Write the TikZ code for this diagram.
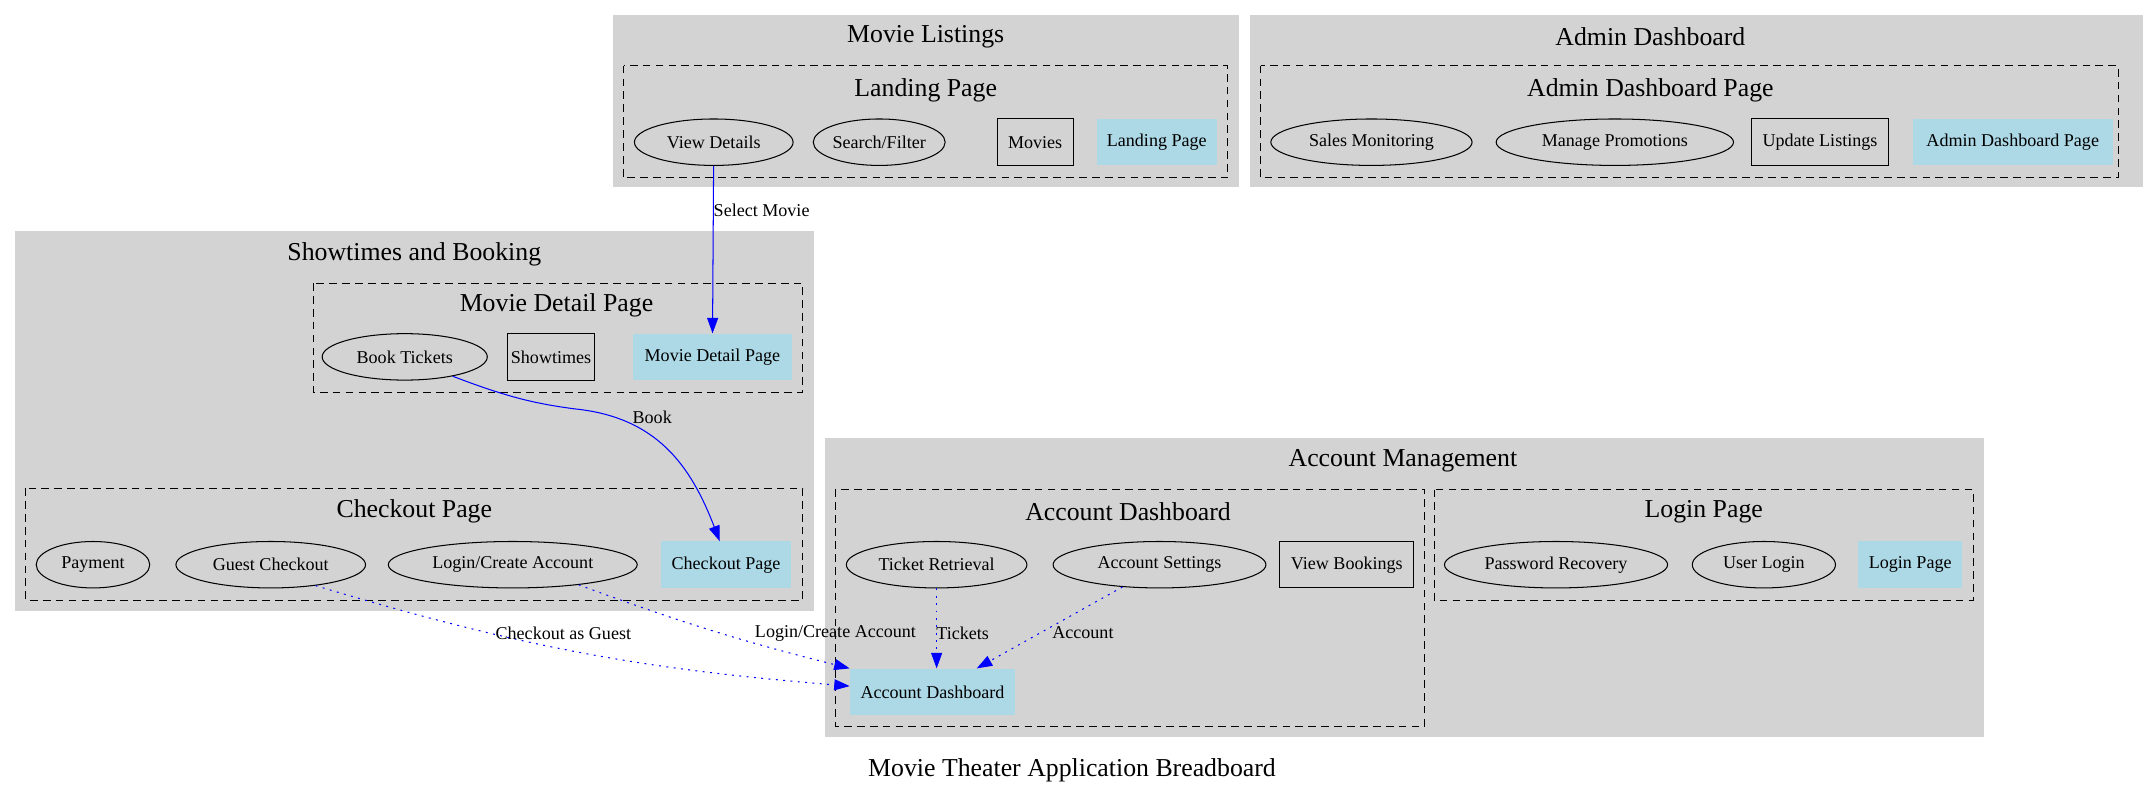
\documentclass[tikz,border=0pt]{standalone}
\usepackage{fontspec}
\setmainfont{Liberation Serif}
\usetikzlibrary{shapes.geometric,arrows.meta}
\definecolor{gvgray}{HTML}{D3D3D3}
\definecolor{gvblue}{HTML}{ADD8E6}

\begin{document}
\begin{tikzpicture}[x=1.06pt,y=-1.06pt,
    font=\fontsize{14}{16}\selectfont,
    area/.style={fill=gvgray,draw=none},
    pagebox/.style={draw,dash pattern=on 6pt off 4pt,line width=0.8pt},
    heading/.style={font=\fontsize{20}{24}\selectfont,inner sep=0pt},
    action/.style={ellipse,draw,line width=0.8pt,inner sep=0pt,minimum height=36pt},
    item/.style={rectangle,draw,line width=0.8pt,inner sep=0pt,minimum height=36pt},
    pagenode/.style={rectangle,fill=gvblue,inner sep=0pt,minimum height=36pt},
    flow/.style={blue,line width=0.8pt,-{Triangle[length=12pt,width=8.5pt]}},
    link/.style={flow,dash pattern=on 1.5pt off 4.2pt},
    lbl/.style={inner sep=0pt}]
  \path[use as bounding box] (0,0) rectangle (1568,580);

  % clusters
  \fill[area] (448,11) rectangle (906,137);
  \fill[area] (914,11) rectangle (1567,137);
  \fill[area] (11,169) rectangle (595,447);
  \fill[area] (603,320) rectangle (1451,539);
  \draw[pagebox] (456,48) rectangle (898,130);
  \draw[pagebox] (922,48) rectangle (1549,130);
  \draw[pagebox] (229,207) rectangle (587,287);
  \draw[pagebox] (19,357) rectangle (587,439);
  \draw[pagebox] (611,358) rectangle (1042,531);
  \draw[pagebox] (1049,358) rectangle (1443,439);

  \node[heading] (tlist) at (677,27) {Movie Listings};
  \node[heading] (tland) at (677,66) {Landing Page};
  \node[heading] (tadmin) at (1207,27) {Admin Dashboard};
  \node[heading] (tadminp) at (1207,66) {Admin Dashboard Page};
  \node[heading] (tshow) at (303,186) {Showtimes and Booking};
  \node[heading] (tdetail) at (407,223) {Movie Detail Page};
  \node[heading] (tcheck) at (303,374) {Checkout Page};
  \node[heading] (tacct) at (1026,337) {Account Management};
  \node[heading] (tdash) at (825,374) {Account Dashboard};
  \node[heading] (tlogin) at (1246,374) {Login Page};
  \node[heading] (title) at (784,563) {Movie Theater Application Breadboard};

  % landing page
  \node[action,minimum width=123pt] (vdet) at (522,104) {View Details};
  \node[action,minimum width=97pt] (search) at (643,104) {Search/Filter};
  \node[item,minimum width=59pt] (movies) at (757,104) {Movies};
  \node[pagenode,minimum width=93pt] (landp) at (846,104) {Landing Page};

  % admin dashboard page
  \node[action,minimum width=156pt] (sales) at (1003,104) {Sales Monitoring};
  \node[action,minimum width=184pt] (promos) at (1181,104) {Manage Promotions};
  \node[item,minimum width=106pt] (updlist) at (1331,104) {Update Listings};
  \node[pagenode,minimum width=155pt] (adminp) at (1472,104) {Admin Dashboard Page};

  % movie detail page
  \node[action,minimum width=128pt] (book) at (296,261) {Book Tickets};
  \node[item,minimum width=68pt] (shows) at (403,261) {Showtimes};
  \node[pagenode,minimum width=123pt] (detailp) at (521,261) {Movie Detail Page};

  % checkout page
  \node[action,minimum width=88pt] (pay) at (68,413) {Payment};
  \node[action,minimum width=147pt] (guest) at (198,413) {Guest Checkout};
  \node[action,minimum width=193pt] (logacct) at (375,413) {Login/Create Account};
  \node[pagenode,minimum width=101pt] (checkp) at (531,413) {Checkout Page};

  % account dashboard
  \node[action,minimum width=140pt] (tickret) at (685,413) {Ticket Retrieval};
  \node[action,minimum width=165pt] (acctset) at (848,413) {Account Settings};
  \node[item,minimum width=104pt] (viewbk) at (985,413) {View Bookings};
  \node[pagenode,minimum width=128pt] (acctdash) at (682,506) {Account Dashboard};

  % login page
  \node[action,minimum width=173pt] (pwrec) at (1138,413) {Password Recovery};
  \node[action,minimum width=111pt] (ulogin) at (1290,413) {User Login};
  \node[pagenode,minimum width=81pt] (loginp) at (1397,413) {Login Page};

  % edges
  \draw[flow] (vdet) -- (detailp);
  \node[lbl] (lsel) at (557,154) {Select Movie};
  \draw[flow] (book.-22) .. controls (370,290) and (390,295) .. (420,299)
    .. controls (480,305) and (505,340) .. (checkp.105);
  \node[lbl] (lbook) at (477,305) {Book};
  \draw[link] (guest.-25) to[bend right=6] (acctdash.176);
  \node[lbl] (lguest) at (412,463) {Checkout as Guest};
  \draw[link] (logacct.-17) to[bend right=3] (acctdash.north west);
  \node[lbl] (llog) at (611,463) {Login/Create Account};
  \draw[link] (tickret.south) -- (tickret.south |- acctdash.north);
  \node[lbl] (ltick) at (704,463) {Tickets};
  \draw[link] (acctset.-149) -- (acctdash.28);
  \node[lbl] (lacct) at (792,463) {Account};
\end{tikzpicture}
\end{document}
